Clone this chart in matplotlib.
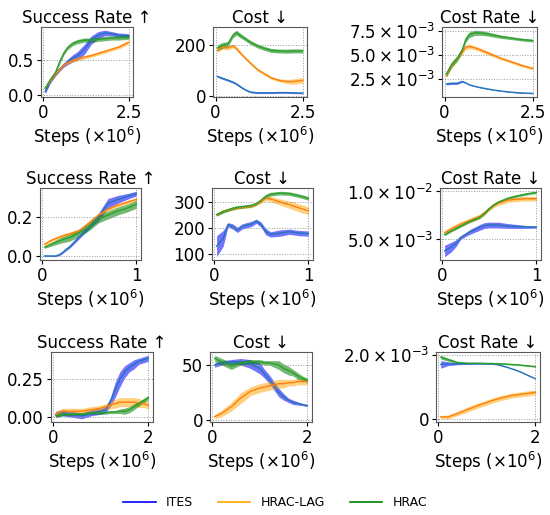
import math
import matplotlib
matplotlib.use("Agg")
import matplotlib.pyplot as plt
from matplotlib.lines import Line2D
from matplotlib.ticker import FuncFormatter

methods = ["ITES", "HRAC-LAG", "HRAC"]
titles = ["Success Rate \u2191", "Cost \u2193", "Cost Rate \u2193"]

# x positions (millions of steps) for each row
steps_r1 = [0.05, 0.2, 0.35, 0.5, 0.6, 0.7, 0.85, 1.0, 1.2, 1.4, 1.6, 1.8, 2.0, 2.2, 2.5]
steps_r2 = [0.03, 0.1, 0.15, 0.2, 0.25, 0.3, 0.4, 0.45, 0.5, 0.55, 0.6, 0.7, 0.8, 0.9, 1.0]
steps_r3 = [0.05, 0.2, 0.4, 0.6, 0.8, 1.0, 1.1, 1.2, 1.3, 1.4, 1.5, 1.6, 1.7, 1.8, 1.9, 2.0]

# ---- row 1 ----
r1_success_ites = [0.05, 0.2, 0.3, 0.38, 0.43, 0.47, 0.52, 0.56, 0.65, 0.78, 0.85, 0.88, 0.87, 0.85, 0.84]
r1_success_ites_sd = [0.03, 0.03, 0.03, 0.03, 0.03, 0.04, 0.05, 0.06, 0.07, 0.06, 0.05, 0.04, 0.03, 0.03, 0.03]
r1_success_lag = [0.1, 0.2, 0.3, 0.38, 0.43, 0.46, 0.49, 0.51, 0.54, 0.56, 0.59, 0.62, 0.65, 0.68, 0.75]
r1_success_lag_sd = [0.02, 0.02, 0.02, 0.02, 0.02, 0.02, 0.025, 0.025, 0.025, 0.025, 0.025, 0.025, 0.025, 0.025, 0.03]
r1_success_hrac = [0.1, 0.22, 0.32, 0.5, 0.6, 0.67, 0.73, 0.76, 0.78, 0.78, 0.79, 0.8, 0.81, 0.81, 0.82]
r1_success_hrac_sd = [0.03, 0.03, 0.03, 0.03, 0.03, 0.03, 0.03, 0.03, 0.03, 0.03, 0.03, 0.03, 0.03, 0.03, 0.03]

r1_cost_ites = [78, 70, 63, 55, 48, 38, 25, 16, 13, 13, 13, 14, 14, 13, 12]
r1_cost_ites_sd = [4, 4, 4, 4, 4, 4, 3, 3, 3, 3, 3, 3, 3, 3, 3]
r1_cost_lag = [180, 193, 190, 198, 188, 172, 150, 130, 105, 88, 72, 63, 58, 57, 62]
r1_cost_lag_sd = [8, 8, 8, 8, 8, 7, 6, 6, 6, 6, 6, 6, 8, 10, 12]
r1_cost_hrac = [190, 200, 205, 240, 250, 240, 226, 212, 198, 188, 180, 178, 177, 178, 178]
r1_cost_hrac_sd = [12, 12, 10, 10, 10, 9, 8, 8, 8, 8, 8, 8, 8, 8, 8]

r1_rate_ites = [2.0e-3, 2.05e-3, 2.05e-3, 2.25e-3, 2.1e-3, 1.9e-3, 1.75e-3, 1.62e-3, 1.48e-3, 1.35e-3, 1.25e-3, 1.17e-3, 1.1e-3, 1.05e-3, 1.0e-3]
r1_rate_ites_sd = [0.12e-3, 0.12e-3, 0.12e-3, 0.1e-3, 0.06e-3, 0.05e-3, 0.04e-3, 0.04e-3, 0.04e-3, 0.04e-3, 0.04e-3, 0.04e-3, 0.04e-3, 0.04e-3, 0.04e-3]
r1_rate_lag = [2.9e-3, 3.9e-3, 4.6e-3, 5.3e-3, 5.8e-3, 5.9e-3, 5.75e-3, 5.55e-3, 5.25e-3, 4.95e-3, 4.65e-3, 4.4e-3, 4.15e-3, 3.9e-3, 3.6e-3]
r1_rate_lag_sd = [0.25e-3, 0.25e-3, 0.25e-3, 0.25e-3, 0.25e-3, 0.25e-3, 0.22e-3, 0.2e-3, 0.2e-3, 0.18e-3, 0.15e-3, 0.15e-3, 0.15e-3, 0.15e-3, 0.15e-3]
r1_rate_hrac = [3.0e-3, 4.0e-3, 4.6e-3, 5.5e-3, 6.6e-3, 7.1e-3, 7.3e-3, 7.3e-3, 7.2e-3, 7.05e-3, 6.9e-3, 6.8e-3, 6.7e-3, 6.6e-3, 6.5e-3]
r1_rate_hrac_sd = [0.3e-3, 0.3e-3, 0.3e-3, 0.3e-3, 0.3e-3, 0.3e-3, 0.28e-3, 0.25e-3, 0.22e-3, 0.2e-3, 0.18e-3, 0.16e-3, 0.15e-3, 0.15e-3, 0.15e-3]

# ---- row 2 ----
r2_success_ites = [0.0, 0.0, 0.0, 0.01, 0.03, 0.05, 0.1, 0.125, 0.15, 0.175, 0.2, 0.27, 0.29, 0.305, 0.32]
r2_success_ites_sd = [0.003, 0.003, 0.004, 0.005, 0.006, 0.008, 0.01, 0.01, 0.012, 0.015, 0.02, 0.025, 0.02, 0.015, 0.012]
r2_success_lag = [0.06, 0.08, 0.09, 0.1, 0.108, 0.115, 0.13, 0.15, 0.17, 0.19, 0.21, 0.24, 0.26, 0.275, 0.29]
r2_success_lag_sd = [0.008, 0.008, 0.008, 0.008, 0.008, 0.008, 0.01, 0.01, 0.01, 0.01, 0.01, 0.01, 0.01, 0.01, 0.01]
r2_success_hrac = [0.045, 0.06, 0.07, 0.08, 0.088, 0.095, 0.12, 0.135, 0.15, 0.17, 0.19, 0.21, 0.23, 0.245, 0.265]
r2_success_hrac_sd = [0.006, 0.01, 0.012, 0.015, 0.017, 0.018, 0.02, 0.02, 0.02, 0.02, 0.02, 0.02, 0.02, 0.02, 0.02]

r2_cost_ites = [130, 160, 212, 205, 192, 205, 215, 225, 212, 185, 175, 180, 185, 180, 178]
r2_cost_ites_sd = [40, 30, 8, 10, 10, 10, 10, 8, 10, 12, 10, 12, 10, 10, 10]
r2_cost_lag = [250, 263, 268, 272, 276, 278, 282, 290, 300, 312, 310, 298, 288, 276, 265]
r2_cost_lag_sd = [5, 5, 5, 5, 5, 5, 5, 6, 7, 8, 10, 12, 14, 15, 15]
r2_cost_hrac = [250, 262, 268, 274, 278, 280, 285, 292, 305, 320, 328, 332, 330, 322, 312]
r2_cost_hrac_sd = [6, 6, 6, 6, 6, 6, 6, 6, 6, 7, 7, 7, 7, 7, 7]

r2_rate_ites = [3.8e-3, 4.2e-3, 4.6e-3, 5.2e-3, 5.5e-3, 5.8e-3, 6.25e-3, 6.45e-3, 6.5e-3, 6.5e-3, 6.5e-3, 6.4e-3, 6.35e-3, 6.3e-3, 6.3e-3]
r2_rate_ites_sd = [0.6e-3, 0.5e-3, 0.35e-3, 0.2e-3, 0.2e-3, 0.25e-3, 0.3e-3, 0.3e-3, 0.3e-3, 0.3e-3, 0.3e-3, 0.25e-3, 0.2e-3, 0.15e-3, 0.12e-3]
r2_rate_lag = [5.7e-3, 6.1e-3, 6.35e-3, 6.6e-3, 6.8e-3, 7.0e-3, 7.4e-3, 7.75e-3, 8.2e-3, 8.55e-3, 8.8e-3, 9.1e-3, 9.2e-3, 9.25e-3, 9.25e-3]
r2_rate_lag_sd = [0.25e-3, 0.25e-3, 0.25e-3, 0.25e-3, 0.25e-3, 0.25e-3, 0.25e-3, 0.25e-3, 0.25e-3, 0.25e-3, 0.25e-3, 0.25e-3, 0.25e-3, 0.25e-3, 0.25e-3]
r2_rate_hrac = [5.5e-3, 5.9e-3, 6.15e-3, 6.4e-3, 6.65e-3, 6.9e-3, 7.3e-3, 7.7e-3, 8.2e-3, 8.6e-3, 8.9e-3, 9.3e-3, 9.55e-3, 9.75e-3, 9.9e-3]
r2_rate_hrac_sd = [0.12e-3, 0.12e-3, 0.12e-3, 0.12e-3, 0.12e-3, 0.12e-3, 0.12e-3, 0.12e-3, 0.12e-3, 0.12e-3, 0.12e-3, 0.12e-3, 0.12e-3, 0.12e-3, 0.12e-3]

# ---- row 3 ----
r3_success_ites = [0.02, 0.03, 0.02, 0.01, 0.03, 0.04, 0.05, 0.1, 0.18, 0.25, 0.3, 0.33, 0.35, 0.37, 0.38, 0.39]
r3_success_ites_sd = [0.02, 0.02, 0.02, 0.02, 0.02, 0.02, 0.02, 0.03, 0.05, 0.05, 0.04, 0.03, 0.03, 0.02, 0.02, 0.02]
r3_success_lag = [0.02, 0.04, 0.04, 0.04, 0.05, 0.06, 0.07, 0.08, 0.09, 0.1, 0.1, 0.1, 0.1, 0.095, 0.09, 0.08]
r3_success_lag_sd = [0.02, 0.02, 0.02, 0.02, 0.02, 0.02, 0.02, 0.025, 0.03, 0.03, 0.03, 0.03, 0.03, 0.03, 0.025, 0.025]
r3_success_hrac = [0.01, 0.02, 0.02, 0.02, 0.03, 0.03, 0.03, 0.035, 0.035, 0.04, 0.04, 0.05, 0.07, 0.09, 0.11, 0.13]
r3_success_hrac_sd = [0.01, 0.01, 0.01, 0.01, 0.01, 0.01, 0.01, 0.01, 0.01, 0.015, 0.02, 0.02, 0.02, 0.015, 0.015, 0.015]

r3_cost_ites = [50, 52, 53, 53, 51, 47, 42, 37, 31, 25, 21, 18, 16, 15, 14, 13]
r3_cost_ites_sd = [2, 2, 2, 3, 4, 5, 4, 4, 4, 4, 3, 2, 2, 1.5, 1, 1]
r3_cost_lag = [3, 6, 12, 20, 26, 29, 30, 31, 32, 33, 33, 34, 34, 35, 35, 35]
r3_cost_lag_sd = [2, 3, 4, 5, 4, 4, 4, 4, 4, 4, 4, 3, 3, 3, 3, 3]
r3_cost_hrac = [56, 53, 49, 52, 53, 53, 52, 52, 51, 50, 47, 45, 43, 40, 38, 36]
r3_cost_hrac_sd = [3, 3, 3, 2, 2, 2, 2, 2, 3, 4, 4, 4, 3, 3, 2, 2]

r3_rate_ites = [1.70e-3, 1.72e-3, 1.72e-3, 1.72e-3, 1.72e-3, 1.72e-3, 1.71e-3, 1.70e-3, 1.66e-3, 1.62e-3, 1.57e-3, 1.52e-3, 1.46e-3, 1.39e-3, 1.32e-3, 1.25e-3]
r3_rate_ites_sd = [0.12e-3, 0.06e-3, 0.03e-3, 0.02e-3, 0.01e-3, 0.01e-3, 0.01e-3, 0.01e-3, 0.01e-3, 0.01e-3, 0.01e-3, 0.01e-3, 0.01e-3, 0.01e-3, 0.01e-3, 0.01e-3]
r3_rate_lag = [0.05e-3, 0.05e-3, 0.16e-3, 0.28e-3, 0.4e-3, 0.5e-3, 0.56e-3, 0.6e-3, 0.65e-3, 0.68e-3, 0.72e-3, 0.74e-3, 0.76e-3, 0.78e-3, 0.8e-3, 0.82e-3]
r3_rate_lag_sd = [0.05e-3, 0.06e-3, 0.07e-3, 0.08e-3, 0.08e-3, 0.08e-3, 0.08e-3, 0.08e-3, 0.08e-3, 0.08e-3, 0.08e-3, 0.08e-3, 0.08e-3, 0.08e-3, 0.08e-3, 0.08e-3]
r3_rate_hrac = [1.93e-3, 1.85e-3, 1.76e-3, 1.74e-3, 1.74e-3, 1.73e-3, 1.73e-3, 1.72e-3, 1.72e-3, 1.71e-3, 1.70e-3, 1.69e-3, 1.68e-3, 1.66e-3, 1.65e-3, 1.63e-3]
r3_rate_hrac_sd = [0.06e-3, 0.05e-3, 0.03e-3, 0.02e-3, 0.02e-3, 0.02e-3, 0.02e-3, 0.02e-3, 0.02e-3, 0.02e-3, 0.02e-3, 0.02e-3, 0.02e-3, 0.02e-3, 0.02e-3, 0.02e-3]

# ticks per row: (success, cost, cost rate)
x_ticks = [[0, 2.5], [0, 1], [0, 2]]
x_ticklabels = [["0", "2.5"], ["0", "1"], ["0", "2"]]
y_ticks = [
    [[0.0, 0.5], [0, 200], [2.5e-3, 5.0e-3, 7.5e-3]],
    [[0.0, 0.2], [100, 200, 300], [5.0e-3, 1.0e-2]],
    [[0.0, 0.25], [0, 50], [0, 2.0e-3]],
]
success_fmt = ["{:.1f}", "{:.1f}", "{:.2f}"]

line_colors = ["tab:blue", "tab:orange", "tab:green"]
fill_colors = ["blue", "orange", "green"]
fill_alpha = [0.55, 0.5, 0.55]

rows = [
    (steps_r1, [
        [(r1_success_ites, r1_success_ites_sd), (r1_success_lag, r1_success_lag_sd), (r1_success_hrac, r1_success_hrac_sd)],
        [(r1_cost_ites, r1_cost_ites_sd), (r1_cost_lag, r1_cost_lag_sd), (r1_cost_hrac, r1_cost_hrac_sd)],
        [(r1_rate_ites, r1_rate_ites_sd), (r1_rate_lag, r1_rate_lag_sd), (r1_rate_hrac, r1_rate_hrac_sd)],
    ]),
    (steps_r2, [
        [(r2_success_ites, r2_success_ites_sd), (r2_success_lag, r2_success_lag_sd), (r2_success_hrac, r2_success_hrac_sd)],
        [(r2_cost_ites, r2_cost_ites_sd), (r2_cost_lag, r2_cost_lag_sd), (r2_cost_hrac, r2_cost_hrac_sd)],
        [(r2_rate_ites, r2_rate_ites_sd), (r2_rate_lag, r2_rate_lag_sd), (r2_rate_hrac, r2_rate_hrac_sd)],
    ]),
    (steps_r3, [
        [(r3_success_ites, r3_success_ites_sd), (r3_success_lag, r3_success_lag_sd), (r3_success_hrac, r3_success_hrac_sd)],
        [(r3_cost_ites, r3_cost_ites_sd), (r3_cost_lag, r3_cost_lag_sd), (r3_cost_hrac, r3_cost_hrac_sd)],
        [(r3_rate_ites, r3_rate_ites_sd), (r3_rate_lag, r3_rate_lag_sd), (r3_rate_hrac, r3_rate_hrac_sd)],
    ]),
]

# axes boxes in pixels: left, top, right, bottom
boxes = [
    [(41, 27, 133, 97), (213, 27, 307, 97), (442, 27, 537, 97)],
    [(40, 188, 141, 260), (212, 188, 313, 260), (440, 188, 541, 260)],
    [(51, 352, 153, 422), (210, 352, 312, 422), (436, 352, 540, 422)],
]

W, H = 550, 515


def sci_label(v, pos=None):
    if abs(v) < 1e-12:
        return "0"
    e = int(math.floor(math.log10(abs(v)) + 1e-9))
    m = v / 10 ** e
    return r"${:.1f}\times10^{{{}}}$".format(m, e)


plt.rcParams["font.family"] = "DejaVu Sans"
fig = plt.figure(figsize=(W / 100, H / 100), dpi=100)

for r, (steps, panels) in enumerate(rows):
    for c, series in enumerate(panels):
        l, t, rr, b = boxes[r][c]
        ax = fig.add_axes([l / W, 1 - b / H, (rr - l) / W, (b - t) / H])
        for k, (mean, sd) in enumerate(series):
            lo = [m - s for m, s in zip(mean, sd)]
            hi = [m + s for m, s in zip(mean, sd)]
            ax.fill_between(steps, lo, hi, color=fill_colors[k], alpha=fill_alpha[k], lw=0)
            ax.plot(steps, mean, color=line_colors[k], lw=1.0)
        ax.set_title(titles[c], fontsize=12, pad=3)
        ax.set_xlabel(r"Steps ($\times 10^6$)", fontsize=12, labelpad=2)
        ax.set_xticks(x_ticks[r])
        ax.set_xticklabels(x_ticklabels[r])
        ax.set_yticks(y_ticks[r][c])
        if c == 0:
            ax.set_yticklabels([success_fmt[r].format(v) for v in y_ticks[r][c]])
        elif c == 1:
            ax.set_yticklabels([str(int(v)) for v in y_ticks[r][c]])
        else:
            ax.yaxis.set_major_formatter(FuncFormatter(sci_label))
        ax.tick_params(labelsize=12, length=3, pad=2)
        ax.grid(True, linestyle=":", color="0.6", lw=0.7)
        for sp in ax.spines.values():
            sp.set_color("0.35")
            sp.set_linewidth(0.8)

handles = [Line2D([0], [0], color=col, lw=1.2) for col in fill_colors]
fig.legend(handles, methods, loc="center", bbox_to_anchor=(0.5, 1 - 503 / H), ncol=3,
           frameon=False, fontsize=9, handlelength=2.6, columnspacing=2.0)

fig.savefig("out.png", dpi=100)
